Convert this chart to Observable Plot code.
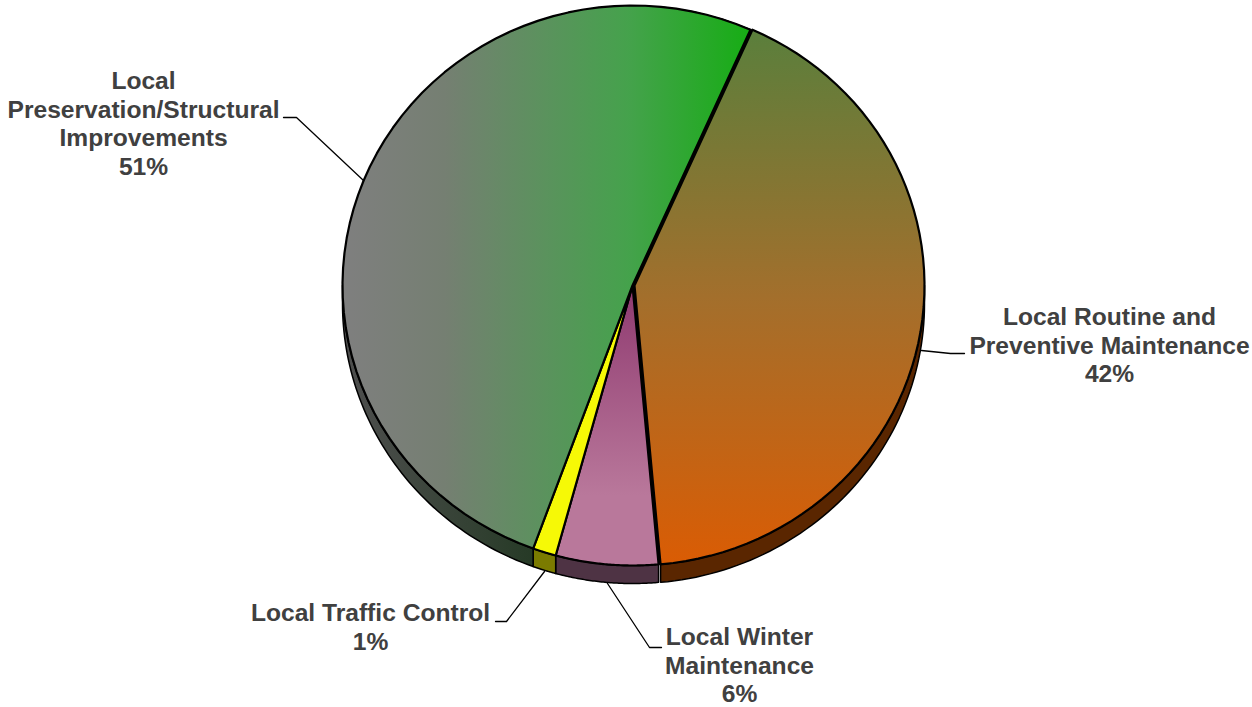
<!DOCTYPE html>
<html>
<head>
<meta charset="utf-8">
<script src="https://cdn.jsdelivr.net/npm/d3@7"></script>
<script src="https://cdn.jsdelivr.net/npm/@observablehq/plot@0.6"></script>
<style>
html,body{margin:0;padding:0;background:#fff;overflow:hidden}
svg{display:block}
</style>
</head>
<body>
<div id="chart"></div>
<script>
// Data
const categories = ["Local Routine and Preventive Maintenance", "Local Winter Maintenance", "Local Traffic Control", "Local Preservation/Structural Improvements"];
const shares = [41.9, 5.7, 1.3, 51.1];
const percentLabels = ["42%", "6%", "1%", "51%"];
const labelLines = [
  ["Local Routine and", "Preventive Maintenance"],
  ["Local Winter", "Maintenance"],
  ["Local Traffic Control"],
  ["Local", "Preservation/Structural", "Improvements"]
];

// Styling and layout, kept apart from the data
const W = 1252, H = 707;
const startAngle = 24.0;
const depth = 0.0643;          // wall height in unit-ellipse coordinates
const pieX = [342, 922], pieY = [565, 5];
const topFills = ["url(#routine)", "url(#winter)", "#f6f906", "url(#preservation)"];
const wallFills = ["#5a2600", "#4e3344", "#7b7b00", "url(#preservationWall)"];
const sliceDx = [2, 0, 0, 0];
const labelPos = [
  {cx: 1109, top: 317}, {cx: 739, top: 637}, {cx: 370, top: 613}, {cx: 143, top: 81}
];
const leaders = [
  [[921, 350], [950, 353], [964, 353]],
  [[607, 583], [649, 647], [661, 647]],
  [[544, 571], [506, 621], [495, 621]],
  [[363, 180], [296, 117], [283, 117]]
];
const lineStep = 28.4;

const px = d3.scaleLinear().domain(pieX).range([-1, 1]);
const py = d3.scaleLinear().domain(pieY).range([-1, 1]);

const rad = d => d * Math.PI / 180;
const pt = (a, off = 0) => ({x: Math.sin(rad(a)), y: Math.cos(rad(a)) - off});
const arc = (a0, a1, off = 0) => d3.range(0, 61).map(i => pt(a0 + (a1 - a0) * i / 60, off));

let acc = startAngle;
const slices = shares.map((v, i) => {
  const a0 = acc, a1 = acc + v * 3.6;
  acc = a1;
  return {i, a0, a1};
});

const marks = [
  () => {
    const ns = "http://www.w3.org/2000/svg";
    const defs = document.createElementNS(ns, "defs");
    const grad = (id, vertical, stops) => {
      const g = document.createElementNS(ns, "linearGradient");
      g.setAttribute("id", id);
      g.setAttribute("x1", 0); g.setAttribute("y1", 0);
      g.setAttribute("x2", vertical ? 0 : 1); g.setAttribute("y2", vertical ? 1 : 0);
      for (const [o, c] of stops) {
        const s = document.createElementNS(ns, "stop");
        s.setAttribute("offset", o); s.setAttribute("stop-color", c);
        g.appendChild(s);
      }
      defs.appendChild(g);
    };
    grad("routine", true, [[0, "#5a7f3c"], [0.5, "#a36f2c"], [1, "#da5c04"]]);
    grad("winter", true, [[0, "#8f3a70"], [0.75, "#b9789b"], [1, "#b9789b"]]);
    grad("preservation", false, [[0, "#7f7f7f"], [0.25, "#757f72"], [0.7, "#45a24c"], [1, "#16ad14"]]);
    grad("preservationWall", false, [[0, "#4f4f4f"], [1, "#263a26"]]);
    return defs;
  }
];

// side walls
slices.forEach(s => {
  const spans = [[Math.max(s.a0, 90), Math.min(s.a1, 270)]].filter(([a, b]) => b > a);
  spans.forEach(([a, b]) => {
    const pts = [...arc(a, b), ...arc(b, a, depth)];
    pts.push(pts[0]);
    marks.push(Plot.line(pts, {x: "x", y: "y", fill: wallFills[s.i], stroke: "#000", strokeWidth: 1.5, dx: sliceDx[s.i], curve: "linear"}));
  });
});
// black base that shows through the gap left by the pulled-out slice
marks.push(Plot.line([...arc(0, 360)], {x: "x", y: "y", fill: "#000", stroke: "#000", strokeWidth: 1, dx: 1, curve: "linear"}));
// top faces
slices.forEach(s => {
  const pts = [{x: 0, y: 0}, ...arc(s.a0, s.a1), {x: 0, y: 0}];
  marks.push(Plot.line(pts, {x: "x", y: "y", fill: topFills[s.i], stroke: "#000", strokeWidth: 2.2, dx: sliceDx[s.i], curve: "linear"}));
});
// leaders
leaders.forEach(l => {
  marks.push(Plot.line(l.map(([a, b]) => ({x: px(a), y: py(b)})), {x: "x", y: "y", stroke: "#000", strokeWidth: 1.3, curve: "linear"}));
});
// labels
categories.forEach((c, i) => {
  const lines = [...labelLines[i], percentLabels[i]];
  marks.push(Plot.text(lines.map((t, k) => ({t, x: px(labelPos[i].cx), y: py(labelPos[i].top + k * lineStep)})), {
    x: "x", y: "y", text: "t", fill: "#404040", fontWeight: "bold", fontSize: 24.6, textAnchor: "middle", lineAnchor: "middle"
  }));
});

const chart = Plot.plot({
  width: W, height: H,
  marginLeft: 0, marginRight: 0, marginTop: 0, marginBottom: 0,
  style: {fontFamily: "'Liberation Sans', Arial, sans-serif", background: "#fff"},
  x: {type: "linear", domain: [-1, 1], range: pieX, axis: null, clamp: false},
  y: {type: "linear", domain: [-1, 1], range: pieY, axis: null, clamp: false},
  marks
});
document.getElementById("chart").appendChild(chart);
</script>
</body>
</html>
